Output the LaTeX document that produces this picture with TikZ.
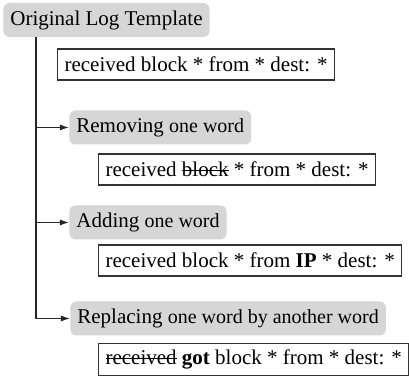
\documentclass[tikz,border=0pt]{standalone}
\usepackage{fontspec}
\setmainfont{Liberation Serif}
\usepackage{tikz}
\usetikzlibrary{arrows.meta}
\usetikzlibrary{positioning}

\tikzset{
    stage/.style={anchor=west,fill=black!16,rounded corners=3pt,inner xsep=3.5pt,minimum height=17pt},
    tmpl/.style={anchor=west,draw=black!80,line width=0.6pt,fill=white,inner xsep=3.5pt,minimum height=15.5pt},
    branch/.style={draw=black!85,line width=0.6pt,-{Latex[length=4.5pt,width=3pt]}}
}
\newcommand{\minor}[1]{{\fontsize{10}{12}\selectfont #1}}
\newsavebox{\strikebox}
\newcommand{\struck}[1]{\sbox{\strikebox}{#1}\rlap{\usebox{\strikebox}}\rule[0.27em]{\wd\strikebox}{0.55pt}}

\begin{document}
\begin{tikzpicture}[x=0.5pt,y=-0.5pt,font=\rmfamily\fontsize{10.5}{12.6}\selectfont]
    \useasboundingbox (0,0) rectangle (409,378);

    \node[stage] (orig) at (3,20) {Original Log Template};
    \node[tmpl] (t1) at (57,64.5) {received block * from * dest: *};

    \node[stage] (rm) at (69,127.5) {Removing \minor{one word}};
    \node[tmpl] (t2) at (98,169.5) {received \struck{block} * from * dest: *};

    \node[stage] (add) at (69,222.5) {Adding \minor{one word}};
    \node[tmpl] (t3) at (98,260.5) {received block * from \textbf{IP} * dest: *};

    \node[stage] (rep) at (70,318.5) {Replacing \minor{one word by another word}};
    \node[tmpl] (t4) at (98,359.5) {\struck{received} \textbf{got} block * from * dest: *};

    %\coordinate (trunk) at ([xshift=16.5pt]orig.south west);
    \coordinate (trunk) at ([xshift=16.5pt]orig.south west);
    \draw[branch] (trunk) |- (rm.west);
    \draw[branch] (trunk) |- (add.west);
    \draw[branch] (trunk) |- (rep.west);
\end{tikzpicture}
\end{document}
